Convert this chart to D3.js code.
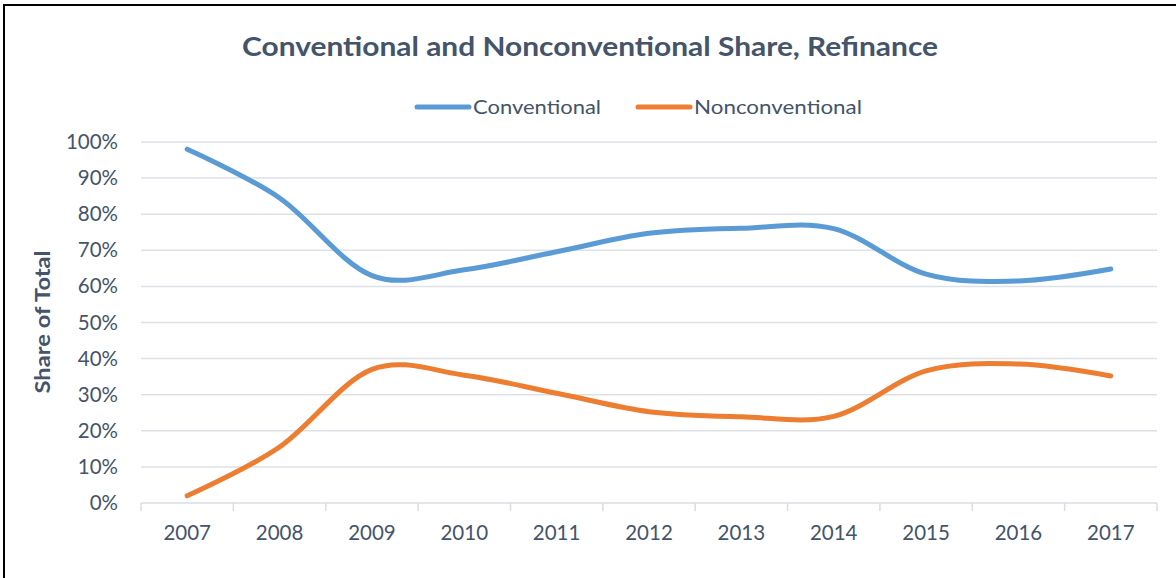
<!DOCTYPE html>
<html>
<head>
<meta charset="utf-8">
<script src="https://cdn.jsdelivr.net/npm/d3@7"></script>
<style>
  html, body { margin: 0; padding: 0; background: #fff; }
  svg { display: block; }
  text { font-family: Lato, "Open Sans", sans-serif; fill: #44546A; }
</style>
</head>
<body>
<svg id="chart" width="1176" height="578"></svg>
<script>
// Refinance share by loan type, percent of total
const years = ["2007", "2008", "2009", "2010", "2011", "2012", "2013", "2014", "2015", "2016", "2017"];
const conventional = [98, 84.5, 63, 64.6, 69.6, 74.7, 76.1, 76, 63.4, 61.5, 64.8];
const nonconventional = [2, 15.5, 37, 35.4, 30.4, 25.3, 23.9, 24, 36.6, 38.5, 35.2];
const yTicks = [0, 10, 20, 30, 40, 50, 60, 70, 80, 90, 100];

const seriesNames = ["Conventional", "Nonconventional"];
const seriesColors = ["#5B9BD5", "#ED7D31"];

const svg = d3.select("#chart");
const W = 1176, H = 578;
const plot = { left: 141, right: 1157, top: 142, bottom: 503 };

// outer frame
svg.append("rect")
  .attr("x", 4).attr("y", 5)
  .attr("width", W + 10).attr("height", H + 10)
  .attr("fill", "none").attr("stroke", "#000").attr("stroke-width", 2);

const x = d3.scaleBand().domain(years).range([plot.left, plot.right]).paddingInner(0).paddingOuter(0);
const y = d3.scaleLinear().domain([0, 100]).range([plot.bottom, plot.top]);

// horizontal gridlines
svg.append("g")
  .selectAll("line")
  .data(yTicks.filter(d => d > 0))
  .join("line")
  .attr("x1", plot.left).attr("x2", plot.right)
  .attr("y1", d => y(d)).attr("y2", d => y(d))
  .attr("stroke", "#DDE1E6").attr("stroke-width", 1.5);

// y axis labels
const yAxis = d3.axisLeft(y).tickValues(yTicks).tickFormat(d => d + "%").tickSize(0).tickPadding(23);
const gy = svg.append("g").attr("transform", `translate(${plot.left},0)`).call(yAxis);
gy.select(".domain").remove();
gy.selectAll("text").attr("font-size", 20.5).attr("fill", "#44546A")
  .style("font-family", "Lato, sans-serif");

// x axis with ticks at category boundaries
const gx = svg.append("g").attr("transform", `translate(0,${plot.bottom})`);
gx.append("line")
  .attr("x1", plot.left).attr("x2", plot.right)
  .attr("stroke", "#D9DDE3").attr("stroke-width", 1.5);
gx.selectAll("line.tick")
  .data(years.concat(["end"]))
  .join("line")
  .attr("class", "tick")
  .attr("x1", (d, i) => plot.left + i * x.bandwidth())
  .attr("x2", (d, i) => plot.left + i * x.bandwidth())
  .attr("y1", 0).attr("y2", 8)
  .attr("stroke", "#D9DDE3").attr("stroke-width", 1.5);
gx.selectAll("text")
  .data(years)
  .join("text")
  .attr("x", d => x(d) + x.bandwidth() / 2)
  .attr("y", 37)
  .attr("text-anchor", "middle")
  .attr("font-size", 20.5)
  .text(d => d);

// y axis title
svg.append("text")
  .attr("transform", `translate(50,${(plot.top + plot.bottom) / 2 - 0.5}) rotate(-90)`)
  .attr("text-anchor", "middle")
  .attr("font-size", 21)
  .attr("font-weight", "bold")
  .attr("textLength", 143)
  .attr("lengthAdjust", "spacingAndGlyphs")
  .text("Share of Total");

// chart title
svg.append("text")
  .attr("x", 590).attr("y", 56)
  .attr("text-anchor", "middle")
  .attr("font-size", 27)
  .attr("font-weight", "bold")
  .attr("textLength", 696)
  .attr("lengthAdjust", "spacingAndGlyphs")
  .text("Conventional and Nonconventional Share, Refinance");

// smoothed lines
const line = d3.line()
  .x((d, i) => x(years[i]) + x.bandwidth() / 2)
  .y(d => y(d))
  .curve(d3.curveCatmullRom.alpha(0));

[conventional, nonconventional].forEach((vals, k) => {
  svg.append("path")
    .datum(vals)
    .attr("d", line)
    .attr("fill", "none")
    .attr("stroke", seriesColors[k])
    .attr("stroke-width", 5)
    .attr("stroke-linecap", "round")
    .attr("stroke-linejoin", "round");
});

// legend
const legendItems = [
  { name: seriesNames[0], color: seriesColors[0], x: 415, w: 128 },
  { name: seriesNames[1], color: seriesColors[1], x: 636, w: 168 }
];
const lg = svg.append("g");
legendItems.forEach(it => {
  lg.append("line")
    .attr("x1", it.x + 2).attr("x2", it.x + 54)
    .attr("y1", 107).attr("y2", 107)
    .attr("stroke", it.color).attr("stroke-width", 5)
    .attr("stroke-linecap", "round");
  lg.append("text")
    .attr("x", it.x + 58).attr("y", 114)
    .attr("font-size", 20)
    .attr("textLength", it.w)
    .attr("lengthAdjust", "spacingAndGlyphs")
    .text(it.name);
});
</script>
</body>
</html>
